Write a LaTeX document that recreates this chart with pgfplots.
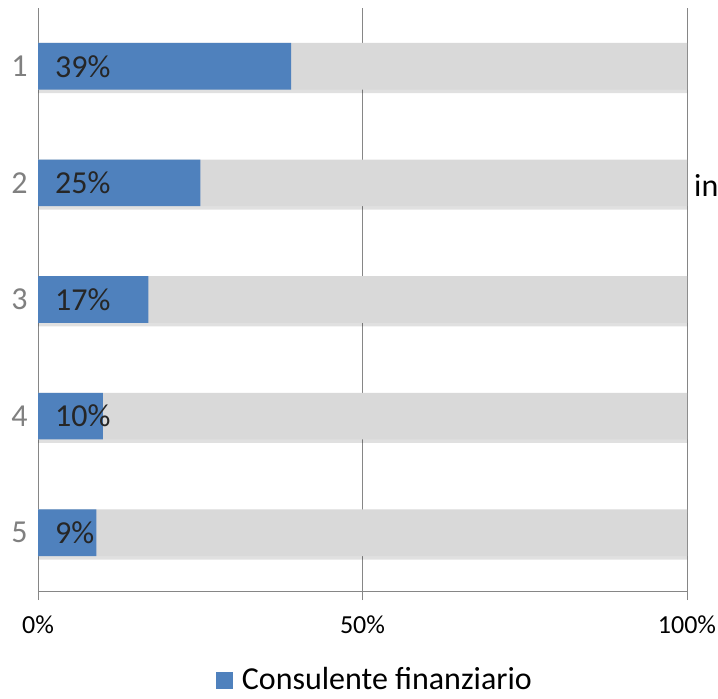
\documentclass[border=0pt]{standalone}
\usepackage{pgfplots}
\pgfplotsset{compat=1.18}
\usepackage{fontspec}
\setmainfont{Carlito}
\usetikzlibrary{calc}
\definecolor{barblue}{HTML}{4F81BD}
\definecolor{bargray}{HTML}{D9D9D9}
\definecolor{axgray}{HTML}{868686}
\definecolor{txtdark}{HTML}{262626}
\definecolor{ylab}{HTML}{808080}
\begin{document}
\begin{tikzpicture}
\begin{axis}[
  scale only axis, width=649bp, height=583bp, clip=false,
  /pgf/number format/assume math mode=true,
  xmin=0, xmax=100, ymin=0.5, ymax=5.5, y dir=reverse,
  axis x line*=bottom, axis y line*=left,
  axis line style={axgray, line width=1bp},
  xbar, bar width=0.4, bar shift=0pt,
  xtick={0,50,100}, xticklabels={0\%,50\%,100\%},
  ytick={1,2,3,4,5},
  xmajorgrids, grid style={axgray, line width=1bp},
  major tick length=9bp, tick align=outside,
  xtick style={axgray, line width=1bp}, ytick style={draw=none},
  xticklabel style={font=\fontsize{26bp}{30bp}\selectfont, text=black, yshift=-12bp},
  yticklabel style={font=\fontsize{32bp}{38bp}\selectfont, text=ylab, xshift=2bp},
  legend style={at={(0.519,-0.152)}, anchor=center, draw=none, fill=none,
    font=\fontsize{32bp}{38bp}\selectfont, nodes={inner ysep=0pt}},
  legend image code/.code={\fill[barblue] (0bp,-9bp) rectangle (17bp,8bp); \path (24bp,0bp);},
]
\addplot[draw=none, fill=black, fill opacity=0.12, bar shift=0.03, forget plot] coordinates {(100,1) (100,2) (100,3) (100,4) (100,5)};
\addplot[draw=none, fill=bargray, forget plot] coordinates {(100,1) (100,2) (100,3) (100,4) (100,5)};
\addplot[draw=none, fill=barblue] coordinates {(39,1) (25,2) (17,3) (10,4) (9,5)};
\addlegendentry{Consulente finanziario}
\addplot[draw=none, fill=none, forget plot, point meta=explicit,
  nodes near coords={\pgfmathprintnumber{\pgfplotspointmeta}\%},
  every node near coord/.append style={anchor=west, inner sep=0pt, xshift=17bp,
    text=txtdark, font=\fontsize{32bp}{38bp}\selectfont}]
  table[meta=v] {
x y v
0 1 39
0 2 25
0 3 17
0 4 10
0 5 9
};
\node[anchor=west, inner sep=0pt, xshift=7bp, yshift=-3bp, font=\fontsize{32bp}{38bp}\selectfont, text=black] at (axis cs:100,2) {in};
\coordinate (ll) at (axis description cs:0,0);
\coordinate (ur) at (axis description cs:1,1);
\end{axis}
\pgfresetboundingbox
\path[use as bounding box] ($(ll)+(-38bp,-108bp)$) rectangle ($(ur)+(31bp,8bp)$);
\end{tikzpicture}
\end{document}
